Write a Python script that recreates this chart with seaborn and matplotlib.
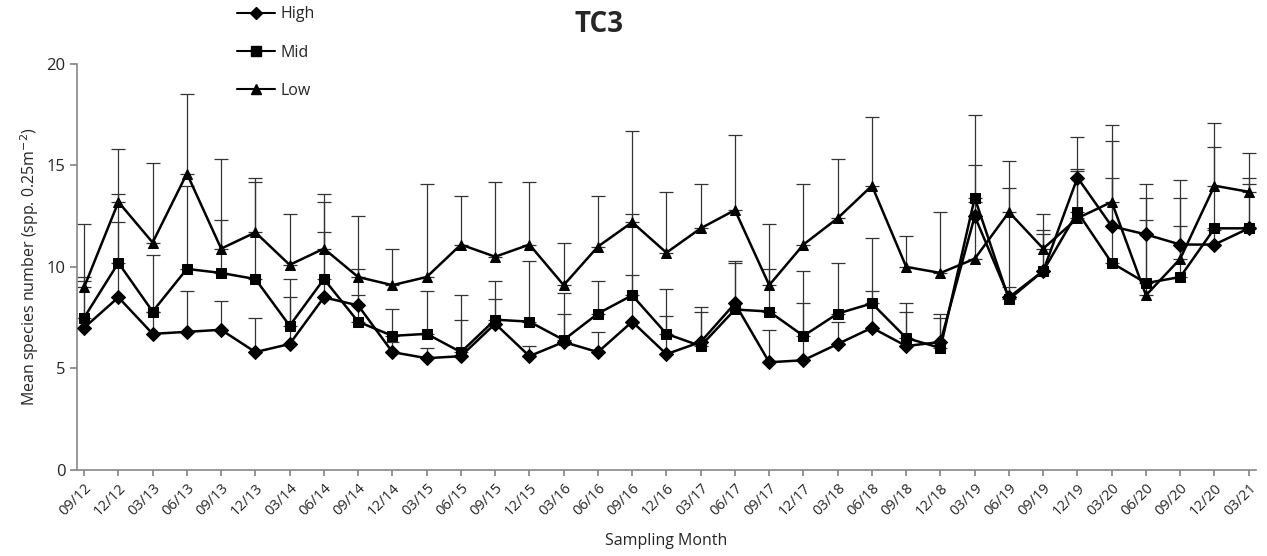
import numpy as np
import pandas as pd
import matplotlib
matplotlib.use("Agg")
import matplotlib.pyplot as plt
import seaborn as sns
from matplotlib.lines import Line2D

sns.set_theme(style="white")
plt.rcParams['font.family'] = ['Open Sans', 'DejaVu Sans']

meses = ["09/12", "12/12", "03/13", "06/13", "09/13", "12/13", "03/14", "06/14", "09/14",
         "12/14", "03/15", "06/15", "09/15", "12/15", "03/16", "06/16", "09/16", "12/16",
         "03/17", "06/17", "09/17", "12/17", "03/18", "06/18", "09/18", "12/18", "03/19",
         "06/19", "09/19", "12/19", "03/20", "06/20", "09/20", "12/20", "03/21"]

high = [7.0, 8.5, 6.7, 6.8, 6.9, 5.8, 6.2, 8.5, 8.1, 5.8, 5.5, 5.6, 7.2, 5.6, 6.3, 5.8, 7.3, 5.7,
        6.3, 8.2, 5.3, 5.4, 6.2, 7.0, 6.1, 6.3, 12.5, 8.5, 9.8, 14.4, 12.0, 11.6, 11.1, 11.1, 11.9]
high_top = [9.3, 12.2, 7.8, 8.8, 8.3, 7.5, 8.5, 11.7, 8.6, 6.3, 6.0, 7.4, 8.4, 6.1, 7.7, 6.8, 9.6, 7.6,
            7.8, 10.2, 6.9, 8.2, 7.3, 8.8, 7.8, 7.5, 13.2, 9.0, 11.6, 16.4, 16.2, 12.3, 13.4, 11.8, 14.4]

mid = [7.5, 10.2, 7.8, 9.9, 9.7, 9.4, 7.1, 9.4, 7.3, 6.6, 6.7, 5.8, 7.4, 7.3, 6.4, 7.7, 8.6, 6.7,
       6.1, 7.9, 7.8, 6.6, 7.7, 8.2, 6.5, 6.0, 13.4, 8.4, 9.8, 12.7, 10.2, 9.2, 9.5, 11.9, 11.9]
mid_top = [9.5, 13.6, 10.6, 14.0, 12.3, 14.2, 9.4, 13.2, 9.9, 7.9, 8.8, 8.6, 9.3, 10.3, 8.7, 9.3, 12.6, 8.9,
           8.0, 10.3, 9.9, 9.8, 10.2, 11.4, 8.2, 7.7, 15.0, 13.9, 11.8, 14.7, 14.4, 14.1, 12.0, 15.9, 14.1]

low = [9.0, 13.2, 11.2, 14.6, 10.9, 11.7, 10.1, 10.9, 9.5, 9.1, 9.5, 11.1, 10.5, 11.1, 9.1, 11.0, 12.2, 10.7,
       11.9, 12.8, 9.1, 11.1, 12.4, 14.0, 10.0, 9.7, 10.4, 12.7, 10.9, 12.4, 13.2, 8.6, 10.4, 14.0, 13.7]
low_top = [12.1, 15.8, 15.1, 18.5, 15.3, 14.4, 12.6, 13.6, 12.5, 10.9, 14.1, 13.5, 14.2, 14.2, 11.2, 13.5, 16.7, 13.7,
           14.1, 16.5, 12.1, 14.1, 15.3, 17.4, 11.5, 12.7, 17.5, 15.2, 12.6, 14.8, 17.0, 13.4, 14.3, 17.1, 15.6]

series = ["High", "Mid", "Low"]
valores = {"High": (high, high_top), "Mid": (mid, mid_top), "Low": (low, low_top)}

rows = []
for s in series:
    for i, m in enumerate(meses):
        rows.append({"idx": i, "mes": m, "series": s, "valor": valores[s][0][i], "topo": valores[s][1][i]})
df = pd.DataFrame(rows)

fig, ax = plt.subplots(figsize=(12.67, 5.56), dpi=100)
fig.subplots_adjust(left=0.061, right=0.991, bottom=0.155, top=0.885)

# barras de erro (so para cima)
for s in series:
    d = df[df.series == s]
    ax.errorbar(d["idx"], d["valor"], yerr=[np.zeros(len(d)), d["topo"] - d["valor"]],
                fmt="none", ecolor="#333333", elinewidth=0.9, capsize=5, capthick=0.9, zorder=1)

sns.lineplot(data=df, x="idx", y="valor", hue="series", style="series",
             palette=["black"] * 3, markers={"High": "D", "Mid": "s", "Low": "^"},
             dashes=False, markersize=7, linewidth=1.8, markeredgecolor="black",
             ax=ax, zorder=3, legend=False)

ax.set_xlim(-0.2, 34.2)
ax.set_ylim(0, 20)
ax.set_yticks([0, 5, 10, 15, 20])
ax.set_xticks(range(len(meses)))
ax.set_xticklabels(meses, rotation=45, ha="right", rotation_mode="anchor", fontsize=10.5)
ax.tick_params(axis="y", labelsize=12, direction="out", length=5, color="#888888", left=True)
ax.tick_params(axis="x", direction="out", length=4, color="#888888", bottom=True, pad=4)
for sp in ["top", "right"]:
    ax.spines[sp].set_visible(False)
for sp in ["left", "bottom"]:
    ax.spines[sp].set_color("#888888")
    ax.spines[sp].set_linewidth(1.2)

ax.set_xlabel("Sampling Month", fontsize=11.5, labelpad=10)
ax.set_ylabel("Mean species number (spp. 0.25m$^{-2}$)", fontsize=11.5)
fig.suptitle("TC3", fontsize=20, fontweight="bold", x=0.473, y=0.982)

handles = [Line2D([], [], color="black", marker=mk, markersize=7 if mk != "D" else 6, linewidth=1.5)
           for mk in ["D", "s", "^"]]
fig.legend(handles, series, loc="upper left", bbox_to_anchor=(0.178, 1.009), frameon=False,
           fontsize=11.5, labelspacing=1.4, handlelength=2.4, handletextpad=0.35, borderpad=0.2)

plt.savefig("out.png", dpi=100)
